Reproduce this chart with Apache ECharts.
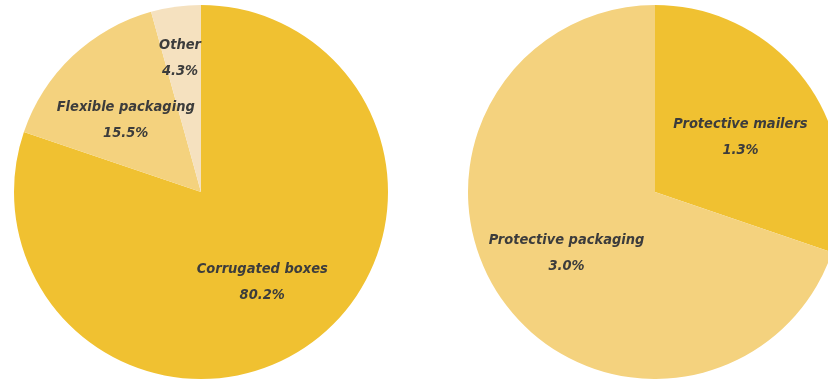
<!DOCTYPE html>
<html>
<head>
<meta charset="utf-8">
<script src="https://cdn.jsdelivr.net/npm/echarts@6/dist/echarts.min.js"></script>
<style>
html,body{margin:0;padding:0;background:#fff;}
#chart{width:828px;height:379px;}
</style>
</head>
<body>
<div id="chart"></div>
<script>
// Left pie: packaging share
const leftCategories = ['Corrugated boxes', 'Flexible packaging', 'Other'];
const leftValues = [80.2, 15.5, 4.3];
// Right pie: protective breakdown
const rightCategories = ['Protective mailers', 'Protective packaging'];
const rightValues = [1.3, 3.0];

const leftColors = ['#F0C131', '#F4D27E', '#F5E1BF'];
const rightColors = ['#F0C131', '#F4D27E'];
// label nudges to match reference placement
const leftShift = [[5, 12], [-9, -2], [-8, -38]];
const rightShift = [[7, 1], [-10, 5]];

const fontFam = "'Liberation Sans Narrow', 'DejaVu Sans Condensed', sans-serif";
const labelBase = {
  show: true,
  position: 'inside',
  color: '#3c3c3c',
  fontFamily: fontFam,
  fontWeight: 'bold',
  fontStyle: 'italic',
  fontSize: 14.5,
  lineHeight: 26,
  align: 'center',
  formatter: p => p.name + '\n' + Number(p.value).toFixed(1) + '%'
};

function build(cats, vals, colors) {
  return cats.map((c, i) => ({
    name: c,
    value: vals[i],
    itemStyle: { color: colors[i] }
  }));
}
function layoutFn(shifts) {
  return function (params) {
    const s = shifts[params.dataIndex] || [0, 0];
    return { dx: s[0], dy: s[1], hideOverlap: false };
  };
}

const chart = echarts.init(document.getElementById('chart'));
chart.setOption({
  animation: false,
  series: [
    {
      type: 'pie',
      center: [201, 192],
      radius: [0, 187],
      startAngle: 90,
      clockwise: true,
      label: labelBase,
      labelLine: { show: false },
      labelLayout: layoutFn(leftShift),
      emphasis: { disabled: true },
      data: build(leftCategories, leftValues, leftColors)
    },
    {
      type: 'pie',
      center: [655, 192],
      radius: [0, 187],
      startAngle: 90,
      clockwise: true,
      label: labelBase,
      labelLine: { show: false },
      labelLayout: layoutFn(rightShift),
      emphasis: { disabled: true },
      data: build(rightCategories, rightValues, rightColors)
    }
  ]
});
</script>
</body>
</html>
